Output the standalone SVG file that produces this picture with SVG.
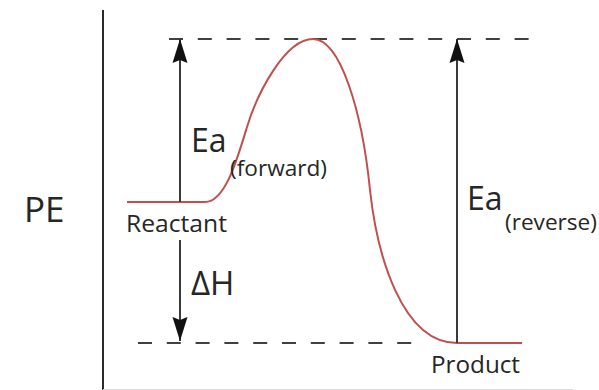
<svg xmlns="http://www.w3.org/2000/svg" width="599" height="390" viewBox="0 0 599 390">
  <defs>
    <style>
      .lbl { font-family: "Open Sans", "Noto Sans", sans-serif; fill: #262626; }
      .dash { stroke: #404040; stroke-width: 2; stroke-dasharray: 14 14.8; fill: none; }
      .arr { stroke: #3a3a3a; stroke-width: 2; fill: none; marker-end: url(#head); }
      .curve { stroke: #c0504d; stroke-width: 2; fill: none; }
    </style>
    <marker id="head" markerUnits="userSpaceOnUse" markerWidth="30" markerHeight="20" viewBox="-26 -10 28 20" refX="0" refY="0" orient="auto">
      <path d="M0,0 L-24,-7.5 L-21,0 L-24,7.5 Z" fill="#111"/>
    </marker>
  </defs>
  <rect width="599" height="390" fill="#ffffff"/>

  <g id="axis">
    <line x1="103" y1="10" x2="103" y2="390" stroke="#2b2b2b" stroke-width="2"/>
    <line x1="103" y1="389.5" x2="573" y2="389.5" stroke="#dcdcdc" stroke-width="1"/>
    <text class="lbl" x="24" y="222" font-size="35">PE</text>
  </g>

  <g id="levels">
    <line class="dash" x1="169" y1="39" x2="532" y2="39"/>
    <line class="dash" x1="138" y1="343" x2="414" y2="343"/>
  </g>

  <g id="curve">
    <path class="curve" d="M127,202 L205,202 C225,202 237,160 247,127 C257,94 285,39 313,39 C340,39 362,110 370,190 C377,255 402,343 457,343 L522,343"/>
  </g>

  <g id="connectors">
    <line class="arr" x1="180" y1="202" x2="180" y2="39"/>
    <line class="arr" x1="180" y1="240" x2="180" y2="341"/>
    <line class="arr" x1="457" y1="343" x2="457" y2="39"/>
  </g>

  <g id="reactant">
    <text class="lbl" x="126" y="232" font-size="24" textLength="101" lengthAdjust="spacingAndGlyphs">Reactant</text>
  </g>
  <g id="product">
    <text class="lbl" x="431" y="373" font-size="24" textLength="89" lengthAdjust="spacingAndGlyphs">Product</text>
  </g>
  <g id="ea-forward">
    <text class="lbl" x="191" y="152" font-size="32">Ea</text>
    <text class="lbl" x="230" y="176" font-size="22" textLength="97" lengthAdjust="spacingAndGlyphs">(forward)</text>
  </g>
  <g id="delta-h">
    <text class="lbl" x="191" y="295" font-size="33">ΔH</text>
  </g>
  <g id="ea-reverse">
    <text class="lbl" x="467" y="210" font-size="32">Ea</text>
    <text class="lbl" x="505" y="230" font-size="22" textLength="92" lengthAdjust="spacingAndGlyphs">(reverse)</text>
  </g>
</svg>
